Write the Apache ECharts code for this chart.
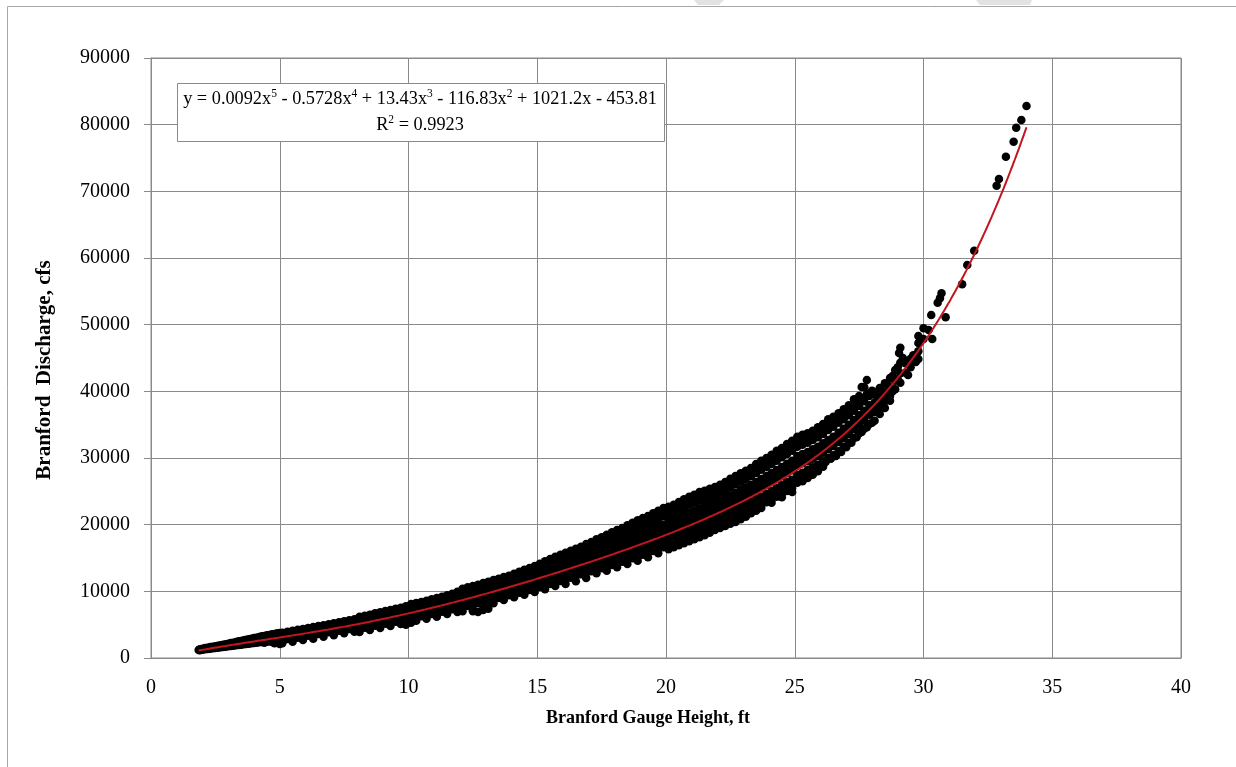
<!DOCTYPE html>
<html>
<head>
<meta charset="utf-8">
<title>Branford Stage-Discharge Rating</title>
<script src="https://cdn.jsdelivr.net/npm/echarts@6/dist/echarts.min.js"></script>
<style>
  html, body { margin: 0; padding: 0; background: #ffffff; }
  #chart { width: 1236px; height: 767px; }
</style>
</head>
<body>
<div id="chart"></div>
<script>
// ---- Axis ticks ----
const xTicks = [0, 5, 10, 15, 20, 25, 30, 35, 40];
const yTicks = [0, 10000, 20000, 30000, 40000, 50000, 60000, 70000, 80000, 90000];

// ---- Axis titles ----
const xTitle = 'Branford Gauge Height, ft';
const yTitle = 'Branford  Discharge, cfs';

// ---- Polynomial trendline (highest power first) and fit quality ----
const trendCoefficients = [0.0092, -0.5728, 13.43, -116.83, 1021.2, -453.81];
const trendRange = [1.85, 34.0];
const rSquared = '0.9923';

// ---- Observations: each row is [gauge height (ft), discharge (cfs), ...] ----
const lowStage = [
  [1.85, 1200], [1.9, 1150, 1300], [2.0, 1250, 1400], [2.1, 1300, 1500], [2.2, 1350, 1550],
  [2.3, 1400, 1650], [2.4, 1450, 1700], [2.5, 1500, 1750], [2.6, 1550, 1850], [2.7, 1600, 1900],
  [2.8, 1650, 2000], [2.9, 1700, 2050], [3.0, 1750, 2150], [3.1, 1800, 2250], [3.2, 1850, 2300],
  [3.3, 1900, 2400], [3.4, 1950, 2500], [3.5, 2000, 2550, 2250], [3.6, 2050, 2650, 2300],
  [3.7, 2100, 2750, 2400], [3.8, 2150, 2800, 2500], [3.9, 2200, 2900, 2550], [4.0, 2250, 3000, 2600],
  [4.1, 2300, 3050, 2700], [4.2, 2350, 3150, 2750], [4.3, 2400, 3250, 2850], [4.4, 2300, 3300, 2900],
  [4.5, 2450, 3400, 2950], [4.6, 2500, 3450, 3050], [4.7, 2400, 3550, 3100], [4.8, 2550, 3600, 3200, 2200],
  [4.9, 2600, 3700, 3250], [5.0, 2450, 3750, 3300, 2100],
  [5.1, 3800, 3250, 2700, 2200], [5.2, 3550, 2950], [5.3, 3950, 3350, 2850], [5.4, 3700, 3100],
  [5.5, 4100, 3500, 2950, 2450], [5.6, 3800, 3200], [5.7, 4250, 3650, 3050], [5.8, 3950, 3350],
  [5.9, 4350, 3800, 3200, 2700], [6.0, 4100, 3500], [6.1, 4500, 3900, 3350], [6.2, 4250, 3600],
  [6.3, 4650, 4050, 3450, 2900], [6.4, 4400, 3750], [6.5, 4800, 4150, 3600], [6.6, 4550, 3900],
  [6.7, 4900, 4300, 3700, 3200], [6.8, 4700, 4000], [6.9, 5050, 4400, 3850], [7.0, 4850, 4150],
  [7.1, 5200, 4550, 3950, 3400], [7.2, 5000, 4300], [7.3, 5350, 4700, 4100], [7.4, 5150, 4450],
  [7.5, 5500, 4850, 4200, 3700], [7.6, 5300, 4600], [7.7, 5650, 4950, 4350], [7.8, 5450, 4700],
  [7.9, 5800, 5100, 4500, 3950], [8.0, 5600, 4850]
];

const midStage = [
  [8.1, 6200, 5600, 5000, 4400, 3900], [8.2, 6000, 4800], [8.3, 6350, 5750, 5150, 4550], [8.4, 6150, 4950],
  [8.5, 6500, 5900, 5300, 4700, 4200], [8.6, 6300, 5100], [8.7, 6700, 6050, 5450, 4850], [8.8, 6450, 5250],
  [8.9, 6850, 6200, 5600, 5000, 4500], [9.0, 6600, 5400], [9.1, 7050, 6400, 5750, 5150], [9.2, 6750, 5550],
  [9.3, 7200, 6550, 5900, 5300, 4800], [9.4, 6950, 5700], [9.5, 7400, 6700, 6100, 5450], [9.6, 7100, 5900],
  [9.7, 7550, 6900, 6250, 5600, 5100], [9.8, 7300, 6050], [9.9, 7750, 7050, 6400, 5750, 5000], [10.0, 7450, 6250],
  [10.1, 8100, 7250, 6600, 5950, 5300], [10.2, 7650, 6400], [10.3, 8250, 7450, 6750, 6100, 5600], [10.4, 7850, 6600],
  [10.5, 8400, 7650, 6950, 6250], [10.6, 8050, 6750], [10.7, 8600, 7850, 7100, 6400, 5900], [10.8, 8250, 6950],
  [10.9, 8800, 8000, 7300, 6600], [11.0, 8450, 7150], [11.1, 9000, 8200, 7500, 6750, 6200], [11.2, 8600, 7350],
  [11.3, 9200, 8400, 7700, 6950], [11.4, 8800, 7550], [11.5, 9400, 8600, 7850, 7100, 6600], [11.6, 9000, 7750],
  [11.7, 9650, 8800, 8050, 7300], [11.8, 9250, 7900], [11.9, 9950, 9000, 8250, 7500, 6900], [12.0, 9400, 8100],
  [12.1, 10400, 9700, 9000, 8300, 7600, 7000], [12.2, 9800, 8100], [12.3, 10600, 9900, 9200, 8500, 7800],
  [12.4, 10000, 8300], [12.5, 10800, 10100, 9400, 8700, 8000, 7300, 7000], [12.6, 10200, 8500],
  [12.7, 11000, 10300, 9600, 8900, 8200, 6900], [12.8, 10450, 8700], [12.9, 11250, 10500, 9800, 9100, 8400, 7800, 7200],
  [13.0, 10650, 8950], [13.1, 11450, 10750, 10000, 9300, 8600, 7400], [13.2, 10850, 9150],
  [13.3, 11700, 10950, 10200, 9500, 8800, 8200], [13.4, 11100, 9350], [13.5, 11900, 11150, 10400, 9700, 9000],
  [13.6, 11300, 9600], [13.7, 12150, 11400, 10650, 9900, 9200, 8700], [13.8, 11500, 9800],
  [13.9, 12350, 11600, 10850, 10100, 9400], [14.0, 11750, 10050], [14.1, 12650, 11850, 11050, 10300, 9600, 9100],
  [14.2, 11950, 10250], [14.3, 12950, 12050, 11300, 10550, 9800], [14.4, 12200, 10500],
  [14.5, 13250, 12300, 11500, 10750, 10000, 9500], [14.6, 12450, 10700], [14.7, 13500, 12550, 11750, 10950, 10200],
  [14.8, 12700, 10950], [14.9, 13800, 12800, 11950, 11150, 10450, 9900], [15.0, 13000, 11200],
  [15.1, 14150, 13100, 12200, 11400, 10650], [15.2, 13300, 11400], [15.3, 14500, 13500, 12450, 11650, 10850, 10300],
  [15.4, 13650, 11650], [15.5, 14850, 13800, 12700, 11850, 11100], [15.6, 14000, 11900],
  [15.7, 15200, 14100, 12900, 12100, 11300, 10800], [15.8, 14300, 12150], [15.9, 15500, 14400, 13250, 12350, 11550],
  [16.0, 14700, 12400]
];

const highStage = [
  [16.1, 15800, 15000, 14200, 13400, 12600, 11800, 11100], [16.2, 15400, 13800, 12300],
  [16.3, 16100, 15300, 14450, 13650, 12850, 12050], [16.4, 15700, 14050, 12500],
  [16.5, 16400, 15550, 14700, 13900, 13100, 12300, 11500], [16.6, 16000, 14300, 12700, 16200],
  [16.7, 16700, 15850, 15000, 14150, 13350, 12550], [16.8, 16350, 14600, 12900],
  [16.9, 17100, 16200, 15300, 14400, 13550, 12750, 12000], [17.0, 16650, 14850, 13150],
  [17.1, 17400, 16500, 15600, 14700, 13850, 13000], [17.2, 17000, 15150, 13400],
  [17.3, 17800, 16850, 15900, 15000, 14100, 13250, 12700], [17.4, 17350, 15450, 13600],
  [17.5, 18100, 17150, 16200, 15250, 14350, 13450], [17.6, 17700, 15700, 13850],
  [17.7, 18500, 17500, 16500, 15550, 14600, 13700, 13100], [17.8, 18050, 16000, 14100],
  [17.9, 18850, 17850, 16850, 15850, 14900, 13950], [18.0, 18400, 16300, 14350],
  [18.1, 19200, 18150, 17150, 16150, 15150, 14200, 13600], [18.2, 18700, 16600, 14650],
  [18.3, 19500, 18450, 17400, 16400, 15400, 14450], [18.4, 19050, 16900, 14900],
  [18.5, 19900, 18800, 17750, 16700, 15700, 14700, 14100], [18.6, 19400, 17250, 15150],
  [18.7, 20300, 19150, 18050, 17000, 15950, 14950], [18.8, 19750, 17550, 15450],
  [18.9, 20650, 19500, 18400, 17300, 16250, 15250, 14600], [19.0, 20100, 17850, 15700],
  [19.1, 21000, 19850, 18700, 17600, 16550, 15500], [19.2, 20450, 18150, 16000],
  [19.3, 21300, 20150, 19000, 17900, 16850, 15800, 15100], [19.4, 20800, 18450, 16300],
  [19.5, 21700, 20500, 19350, 18200, 17100, 16050], [19.6, 21150, 18750, 16550],
  [19.7, 22100, 20850, 19700, 18550, 17400, 16350, 15700], [19.8, 21500, 19050, 16850],
  [19.9, 22500, 21250, 20000, 18850, 17700, 16600], [20.0, 21900, 19400, 17150],
  [20.1, 22700, 21600, 20500, 19400, 18300, 17200, 16300], [20.2, 22100, 19900, 17700],
  [20.3, 23000, 21900, 20800, 19700, 18600, 17500, 16600], [20.4, 22450, 20250, 18000],
  [20.5, 23400, 22250, 21100, 20000, 18900, 17800, 16900], [20.6, 22800, 20600, 18400],
  [20.7, 23800, 22600, 21450, 20300, 19150, 18050, 17200], [20.8, 23200, 20950, 18700],
  [20.9, 24200, 23000, 21800, 20600, 19450, 18300, 17500], [21.0, 23600, 21300, 19050],
  [21.1, 24500, 23300, 22100, 20950, 19800, 18650, 17800], [21.2, 23950, 21650, 19350],
  [21.3, 24900, 23650, 22450, 21250, 20100, 18950, 18100], [21.4, 24300, 21950, 19700],
  [21.5, 25100, 23950, 22800, 21600, 20400, 19250, 18400], [21.6, 24600, 22300, 20000],
  [21.7, 25400, 24250, 23100, 21950, 20750, 19600, 18800], [21.8, 24900, 22650, 20350],
  [21.9, 25650, 24550, 23400, 22250, 21050, 19900, 19200], [22.0, 25250, 23000, 20700],
  [22.1, 26000, 24850, 23700, 22550, 21400, 20250, 19500], [22.2, 25600, 23350, 21000],
  [22.3, 26400, 25200, 24050, 22900, 21700, 20550, 19800], [22.4, 26000, 23700, 21300],
  [22.5, 26900, 25650, 24400, 23200, 22000, 20850, 20150], [22.6, 26400, 24050, 21650],
  [22.7, 27300, 26050, 24800, 23550, 22350, 21150, 20400], [22.8, 26800, 24400, 22000],
  [22.9, 27700, 26450, 25200, 23950, 22700, 21450, 20800], [23.0, 27250, 24800, 22350],
  [23.1, 28100, 26850, 25600, 24350, 23100, 21850, 21200], [23.2, 27650, 25200, 22800],
  [23.3, 28500, 27250, 25950, 24700, 23450, 22200, 21700], [23.4, 28100, 25600, 23150],
  [23.5, 29100, 27750, 26400, 25100, 23800, 22550, 22100], [23.6, 28500, 26050, 23600],
  [23.7, 29600, 28250, 26850, 25500, 24200, 22950, 22500], [23.8, 28950, 26450, 24000],
  [23.9, 30000, 28650, 27300, 25950, 24600, 23350], [24.0, 29400, 26900, 24450],
  [24.1, 30500, 29100, 27750, 26400, 25050, 23800, 23300], [24.2, 29850, 27350, 24900],
  [24.3, 31100, 29600, 28200, 26800, 25450, 24200], [24.4, 30300, 27800, 25350],
  [24.5, 31500, 30100, 28650, 27250, 25900, 24650, 24100], [24.6, 30800, 28300, 25800],
  [24.7, 32100, 30600, 29150, 27700, 26350, 25050], [24.8, 31300, 28750, 26200],
  [24.9, 32600, 31100, 29600, 28150, 26750, 25500, 24900], [25.0, 31800, 29200, 26600]
];

const floodStage = [
  [25.1, 33200, 31700, 30300, 28900, 27500, 26300], [25.2, 32500, 29800, 27100],
  [25.3, 33500, 32000, 30600, 29200, 27800, 26500], [25.4, 32900, 30100, 27400],
  [25.5, 33700, 32300, 30900, 29500, 28200, 27000], [25.6, 33000, 30400, 27800],
  [25.7, 34100, 32700, 31300, 29900, 28600, 27500], [25.8, 33400, 30800, 28200],
  [25.9, 34600, 33100, 31700, 30300, 29000, 28000], [26.0, 34000, 31200, 28900],
  [26.1, 35100, 33600, 32200, 30800, 29500, 28700], [26.2, 34600, 31700, 29400],
  [26.3, 35800, 34200, 32700, 31300, 30000], [26.4, 35000, 32200, 29900],
  [26.5, 36200, 34700, 33200, 31800, 30400], [26.6, 35500, 32800, 30300],
  [26.7, 36700, 35300, 33800, 32400, 31000], [26.8, 36100, 33500, 30900],
  [26.9, 37300, 35800, 34400, 33000, 31700], [27.0, 36600, 34100, 31600],
  [27.1, 37900, 36400, 35000, 33600, 32300], [27.2, 37200, 34700, 32300],
  [27.3, 38800, 37100, 35700, 34300, 33000], [27.4, 38100, 35400, 33100],
  [27.5, 39300, 37800, 36400, 35000, 33700], [27.6, 38700, 36100, 33900, 40650],
  [27.7, 40600, 38500, 37100, 35700, 34400], [27.8, 39600, 36800, 34600, 41700],
  [27.9, 39300, 37900, 36500, 35100], [28.0, 40100, 37400, 35300],
  [28.1, 39900, 38300, 36900, 35600], [28.2, 39200, 37200], [28.3, 40500, 39100, 37700, 36600],
  [28.4, 40000, 38100], [28.5, 41200, 39800, 38500, 37500], [28.6, 41000, 39000],
  [28.7, 42000, 40600, 39300, 38600], [28.8, 42300, 40000], [28.9, 43200, 41600, 40300],
  [29.0, 43600, 41800], [29.05, 45750], [29.1, 46550, 44300, 42700, 41300], [29.2, 45000],
  [29.3, 44200, 42800], [29.4, 42450], [29.5, 44900, 43600], [29.6, 45400], [29.7, 44400],
  [29.8, 44850, 47250, 48300, 46000], [30.0, 49450, 47850], [30.2, 49200],
  [30.3, 51450], [30.34, 47850], [30.55, 53300], [30.64, 53950], [30.7, 54700], [30.86, 51100],
  [31.5, 56050], [31.7, 58950], [31.97, 61100], [32.84, 70850], [32.93, 71850], [33.2, 75200],
  [33.5, 77450], [33.6, 79550], [33.8, 80700], [34.0, 82800]
];

// Flatten rating rows into [height, discharge] points
function toPoints(rows) {
  const pts = [];
  rows.forEach(function (row) {
    for (let i = 1; i < row.length; i++) pts.push([row[0], row[i]]);
  });
  return pts;
}
const observations = [].concat(
  toPoints(lowStage), toPoints(midStage), toPoints(highStage), toPoints(floodStage)
);

// Evaluate the fitted polynomial over the observed stage range
function trendValue(x) {
  let y = 0;
  trendCoefficients.forEach(function (c) { y = y * x + c; });
  return y;
}
const trendPoints = [];
for (let x = trendRange[0]; x <= trendRange[1] + 1e-9; x += 0.05) {
  trendPoints.push([x, trendValue(x)]);
}

// Equation label built from the same coefficients (rich text superscripts)
function equationRich() {
  const n = trendCoefficients.length - 1;
  let s = '';
  trendCoefficients.forEach(function (c, i) {
    const p = n - i;
    const mag = String(Math.abs(c));
    let part = (i === 0) ? ('y = ' + (c < 0 ? '-' : '') + mag) : ((c < 0 ? ' - ' : ' + ') + mag);
    if (p >= 1) part += 'x';
    s += '{n|' + part + '}';
    if (p >= 2) s += '{s|' + p + '}';
  });
  return s;
}

const serif = '"Liberation Serif", "Times New Roman", serif';
const gridColor = '#8a8a8a';
const eqRich = {
  n: { fontFamily: serif, fontSize: 18.3, lineHeight: 22, fill: '#000', color: '#000' },
  s: { fontFamily: serif, fontSize: 11.5, lineHeight: 12, verticalAlign: 'top', fill: '#000', color: '#000' }
};

const chart = echarts.init(document.getElementById('chart'), null, { renderer: 'canvas' });

chart.setOption({
  animation: false,
  backgroundColor: '#ffffff',
  grid: {
    left: 151, right: 55, top: 58, bottom: 109,
    show: true, borderColor: gridColor, borderWidth: 1, backgroundColor: '#ffffff'
  },
  xAxis: {
    type: 'value',
    min: xTicks[0], max: xTicks[xTicks.length - 1], interval: xTicks[1] - xTicks[0],
    axisLine: { show: true, lineStyle: { color: gridColor, width: 1 } },
    axisTick: { show: false },
    splitLine: { show: true, lineStyle: { color: gridColor, width: 1 } },
    axisLabel: { color: '#000', fontFamily: serif, fontSize: 20, margin: 20 }
  },
  yAxis: {
    type: 'value',
    min: yTicks[0], max: yTicks[yTicks.length - 1], interval: yTicks[1] - yTicks[0],
    axisLine: { show: true, lineStyle: { color: gridColor, width: 1 } },
    axisTick: { show: true, length: 7, lineStyle: { color: gridColor } },
    splitLine: { show: true, lineStyle: { color: gridColor, width: 1 } },
    axisLabel: {
      color: '#000', fontFamily: serif, fontSize: 20, margin: 21,
      formatter: function (v) { return String(v); }
    }
  },
  series: [
    {
      name: 'Observed',
      type: 'scatter',
      data: observations,
      symbol: 'circle',
      symbolSize: 8.5,
      itemStyle: { color: '#000000', opacity: 1 },
      z: 2
    },
    {
      name: 'Poly. (Observed)',
      type: 'line',
      data: trendPoints,
      showSymbol: false,
      lineStyle: { color: '#c0161e', width: 2 },
      z: 3
    }
  ],
  graphic: [
    // outer chart-area frame
    {
      type: 'rect', z: -10, silent: true,
      shape: { x: 7.5, y: 6.5, width: 1240, height: 790 },
      style: { fill: 'none', stroke: '#a8a8a8', lineWidth: 1 }
    },
    // faint page marks along the top edge
    {
      type: 'polygon', z: -9, silent: true,
      shape: { points: [[694, 0], [724, 0], [719, 5], [698, 5]] },
      style: { fill: '#e2e2e2' }
    },
    {
      type: 'polygon', z: -9, silent: true,
      shape: { points: [[976, 0], [1032, 0], [1030, 5], [980, 5]] },
      style: { fill: '#e2e2e2' }
    },
    // trendline equation box
    {
      type: 'rect', z: 100,
      shape: { x: 177.5, y: 83.5, width: 487, height: 58 },
      style: { fill: '#ffffff', stroke: gridColor, lineWidth: 1 }
    },
    {
      type: 'text', x: 420, y: 99, z: 101,
      style: {
        text: equationRich(),
        align: 'center', verticalAlign: 'middle',
        textAlign: 'center', textVerticalAlign: 'middle',
        rich: eqRich
      }
    },
    {
      type: 'text', x: 420, y: 125, z: 101,
      style: {
        text: '{n|R}{s|2}{n| = ' + rSquared + '}',
        align: 'center', verticalAlign: 'middle',
        textAlign: 'center', textVerticalAlign: 'middle',
        rich: eqRich
      }
    },
    // axis titles
    {
      type: 'text', x: 648, y: 718, z: 100,
      style: {
        text: xTitle, fill: '#000', font: 'bold 18px ' + serif,
        align: 'center', verticalAlign: 'middle', textAlign: 'center', textVerticalAlign: 'middle'
      }
    },
    {
      type: 'text', x: 45, y: 370, rotation: Math.PI / 2, z: 100,
      style: {
        text: yTitle, fill: '#000', font: 'bold 21px ' + serif,
        align: 'center', verticalAlign: 'middle', textAlign: 'center', textVerticalAlign: 'middle'
      }
    }
  ]
});
</script>
</body>
</html>
